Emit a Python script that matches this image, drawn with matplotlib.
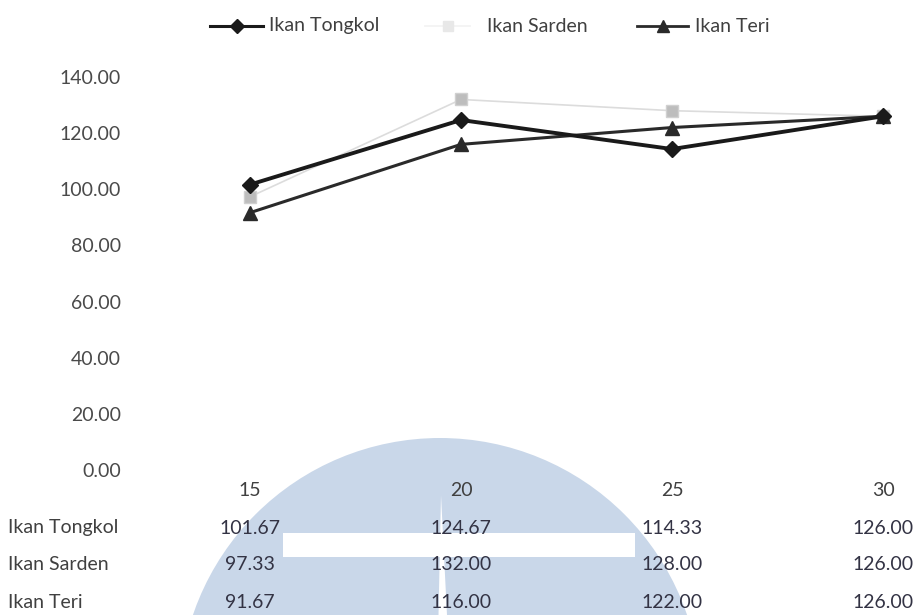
import matplotlib
matplotlib.use("Agg")
import matplotlib.pyplot as plt
from matplotlib.lines import Line2D
from matplotlib.patches import Circle, Rectangle, Polygon
from matplotlib.transforms import blended_transform_factory

plt.rcParams['font.family'] = ['Lato', 'DejaVu Sans']

categories = ["15", "20", "25", "30"]
series_names = ["Ikan Tongkol", "Ikan Sarden", "Ikan Teri"]
tongkol = [101.67, 124.67, 114.33, 126.00]
sarden = [97.33, 132.00, 128.00, 126.00]
teri = [91.67, 116.00, 122.00, 126.00]
yticks = [0, 20, 40, 60, 80, 100, 120, 140]

W, H = 915, 615
fig = plt.figure(figsize=(W / 100, H / 100), dpi=100)
fig.patch.set_facecolor("white")

def fx(px):
    return px / W

def fy(py):
    return 1 - py / H

# watermark (light blue dome)
wm = "#c9d7e9"
fig.patches.append(Circle((4.40, (H - 699) / 100), 2.61, transform=fig.dpi_scale_trans,
                          facecolor=wm, edgecolor="none", zorder=-2))
fig.patches.append(Rectangle((283 / 100, (H - 557) / 100), (635 - 283) / 100, 24 / 100,
                             transform=fig.dpi_scale_trans, facecolor="white",
                             edgecolor="none", zorder=-1))
fig.patches.append(Polygon([(4.41, (H - 495) / 100), (4.385, 0), (4.47, 0)],
                           transform=fig.dpi_scale_trans, facecolor="white",
                           edgecolor="none", zorder=-1))

left, right, bottom, top = 250, 883, 470, 77
ax = fig.add_axes([fx(left), fy(bottom), fx(right) - fx(left), fy(top) - fy(bottom)])
ax.set_facecolor("none")
x = list(range(len(categories)))
ax.set_xlim(0, 3)
ax.set_ylim(0, 140)

ax.plot(x, sarden, color="#dcdcdc", lw=1.2, marker="s", ms=8,
        markerfacecolor="#bdbdbd", markeredgecolor="#d0d0d0", clip_on=False, zorder=2)
ax.plot(x, teri, color="#2a2a2a", lw=2.2, marker="^", ms=10,
        markerfacecolor="#2a2a2a", markeredgecolor="#2a2a2a", clip_on=False, zorder=3)
ax.plot(x, tongkol, color="#1a1a1a", lw=2.8, marker="D", ms=8,
        markerfacecolor="#1a1a1a", markeredgecolor="#1a1a1a", clip_on=False, zorder=4)

for s in ax.spines.values():
    s.set_visible(False)
ax.set_xticks([])
ax.set_yticks(yticks)
ax.set_yticklabels([f"{v:.2f}" for v in yticks], fontsize=14, color="#4a4a4a")
ax.tick_params(axis="y", length=0, pad=(left - 121) * 0.72)

# data table
fs = 14
tc = "#333344"
tr = blended_transform_factory(ax.transData, fig.transFigure)
for i, c in enumerate(categories):
    ax.text(i, fy(490), c, transform=tr, ha="center", va="center", fontsize=fs,
            color="#404040", clip_on=False)
rows_y = [528, 565, 603]
for name, vals, yy in zip(series_names, [tongkol, sarden, teri], rows_y):
    fig.text(fx(8), fy(yy), name, ha="left", va="center", fontsize=fs, color="#404040")
    for i, v in enumerate(vals):
        ax.text(i, fy(yy), f"{v:.2f}", transform=tr, ha="center", va="center",
                fontsize=fs, color=tc, clip_on=False)

# legend
ly = fy(26)
def leg_line(x1, x2, color, lw, marker, ms, mfc):
    fig.add_artist(Line2D([fx(x1), fx(x2)], [ly, ly], color=color, lw=lw))
    fig.add_artist(Line2D([fx((x1 + x2) / 2)], [ly], marker=marker, ms=ms,
                          color=mfc, markeredgecolor=mfc, lw=0))

leg_line(210, 263, "#1a1a1a", 2.2, "D", 7, "#1a1a1a")
fig.text(fx(269), ly, "Ikan Tongkol", ha="left", va="center", fontsize=fs, color="#404040")
leg_line(425, 470, "#f2f2f2", 1.2, "s", 7, "#e8e8e8")
fig.text(fx(487), ly, "Ikan Sarden", ha="left", va="center", fontsize=fs, color="#404040")
leg_line(637, 688, "#2a2a2a", 2.0, "^", 8, "#2a2a2a")
fig.text(fx(695), ly, "Ikan Teri", ha="left", va="center", fontsize=fs, color="#404040")

fig.savefig("out.png", dpi=100)
